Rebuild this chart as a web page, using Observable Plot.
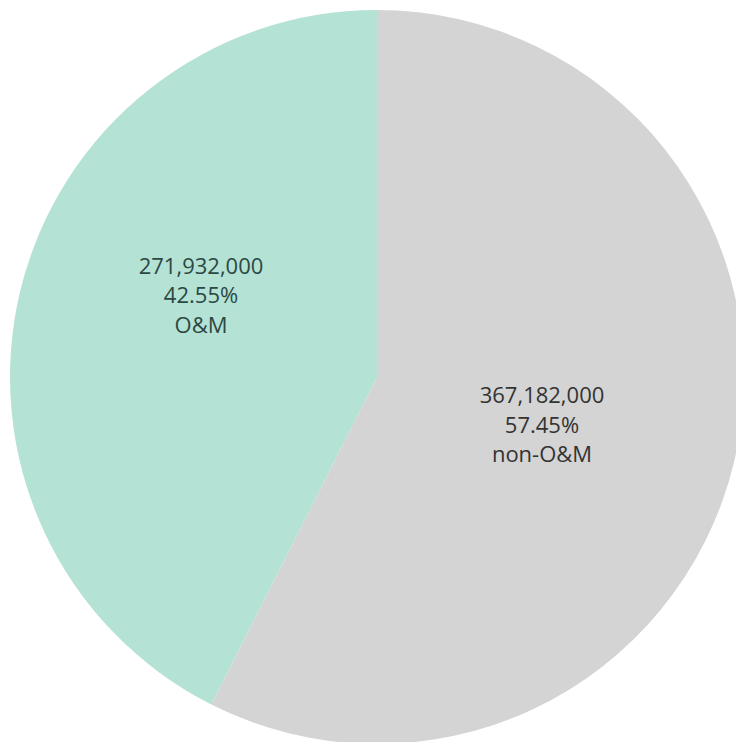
<!DOCTYPE html>
<html>
<head>
<meta charset="utf-8">
<script src="https://cdn.jsdelivr.net/npm/d3@7"></script>
<script src="https://cdn.jsdelivr.net/npm/@observablehq/plot@0.6"></script>
<style>
  html, body { margin: 0; padding: 0; background: #ffffff; }
  #chart svg { display: block; }
</style>
</head>
<body>
<div id="chart"></div>
<script>
// Data
const categories = ["O&M", "non-O&M"];
const values = [271932000, 367182000];
const percents = ["42.55%", "57.45%"];
const colors = ["#b4e2d5", "#d4d4d4"];
const textColors = ["#2c4843", "#333333"];

const table = categories.map((c, i) => ({category: c, value: values[i], pct: percents[i], color: colors[i], textColor: textColors[i]}));

// O&M drawn counter-clockwise from 12 o'clock, non-O&M clockwise from 12 o'clock
const total = d3.sum(values);
const omAngle = values[0] / total * 2 * Math.PI;
const arcs = [
  {...table[0], startAngle: -omAngle, endAngle: 0},
  {...table[1], startAngle: 0, endAngle: 2 * Math.PI - omAngle}
];
const arcGen = d3.arc().innerRadius(0).outerRadius(1);
arcs.forEach(a => {
  const [cx, cy] = arcGen.centroid(a); // d3 arc: x right, y down
  a.lx = cx;
  a.ly = -cy;
  a.label = d3.format(",")(a.value) + "\n" + a.pct + "\n" + a.category;
});

const pieMark = (index, scales) => {
  const sx = scales.x, sy = scales.y;
  const cx = sx(0), cy = sy(0);
  const r = Math.abs(sx(1) - sx(0));
  const g = d3.create("svg:g").attr("transform", `translate(${cx},${cy})`);
  const gen = d3.arc().innerRadius(0).outerRadius(r);
  g.selectAll("path").data(arcs).join("path")
    .attr("d", gen)
    .attr("fill", d => d.color);
  return g.node();
};

const textStyle = {
  text: "label",
  fontSize: 22,
  lineHeight: 1.34,
  textAnchor: "middle",
  fill: d => d.textColor,
  fontFamily: "'Open Sans', sans-serif",
  letterSpacing: "0.2px"
};

const chart = Plot.plot({
  width: 736,
  height: 742,
  margin: 0,
  style: {background: "#ffffff", fontFamily: "'Open Sans', sans-serif"},
  x: {domain: [-1, 1], range: [10, 744], axis: null},
  y: {domain: [-1, 1], range: [744, 10], axis: null},
  marks: [
    pieMark,
    Plot.text([arcs[0]], {x: "lx", y: "ly", dx: 2, dy: -41, ...textStyle}),
    Plot.text([arcs[1]], {x: "lx", y: "ly", dx: -14, dy: 3, ...textStyle})
  ]
});
document.getElementById("chart").appendChild(chart);
</script>
</body>
</html>
